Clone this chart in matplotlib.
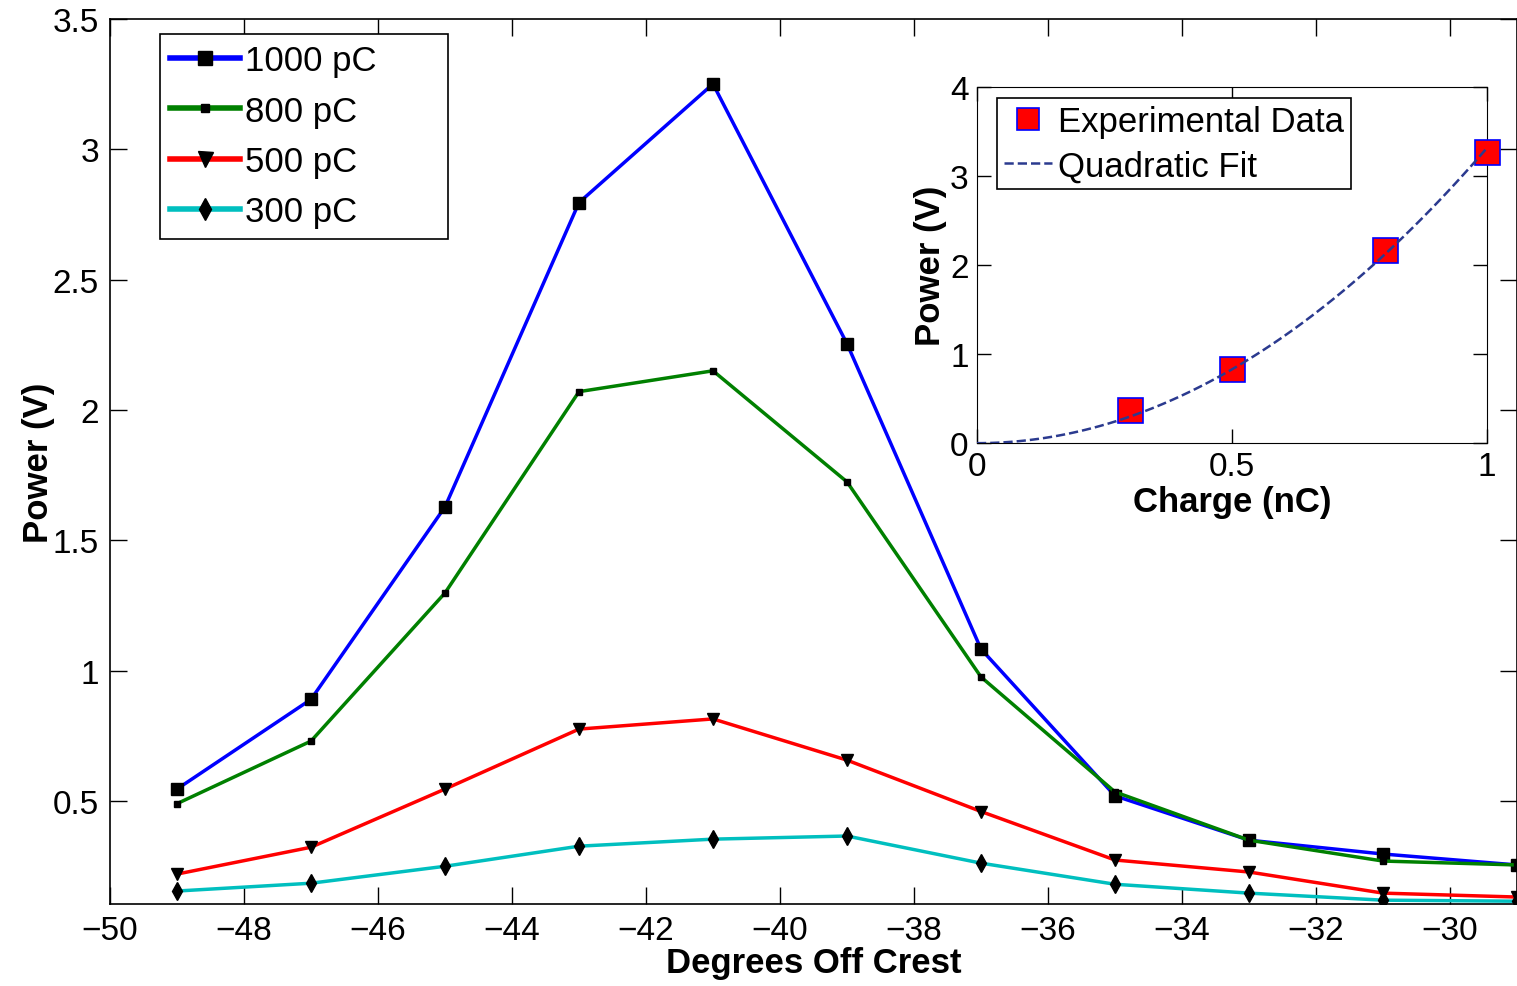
import numpy as np
import matplotlib
matplotlib.use("Agg")
import matplotlib.pyplot as plt

plt.rcParams['font.family'] = ['Liberation Sans', 'DejaVu Sans']

# degrés hors crête
phase = [-49, -47, -45, -43, -41, -39, -37, -35, -33, -31, -29]
p1000 = [0.546, 0.89, 1.628, 2.795, 3.25, 2.254, 1.083, 0.52, 0.35, 0.297, 0.255]
p800 = [0.49, 0.73, 1.298, 2.07, 2.15, 1.724, 0.976, 0.535, 0.35, 0.27, 0.255]
p500 = [0.22, 0.323, 0.546, 0.776, 0.815, 0.657, 0.46, 0.274, 0.228, 0.147, 0.132]
p300 = [0.155, 0.185, 0.25, 0.327, 0.354, 0.366, 0.262, 0.181, 0.147, 0.12, 0.116]

# encart : puissance crête vs charge
charge = [0.3, 0.5, 0.8, 1.0]
p_peak = [0.37, 0.83, 2.17, 3.27]

fig = plt.figure(figsize=(15.17, 9.87), dpi=100)
ax = fig.add_axes([0.0725, 0.083, 0.9275, 0.897])

ax.plot(phase, p1000, '-s', color='#0000ff', lw=2.5, mfc='k', mec='k', ms=8, label='1000 pC')
ax.plot(phase, p800, '-s', color='#008000', lw=2.5, mfc='k', mec='k', ms=5, label='800 pC')
ax.plot(phase, p500, '-v', color='#ff0000', lw=2.5, mfc='k', mec='k', ms=9, label='500 pC')
ax.plot(phase, p300, '-d', color='#00bfbf', lw=2.5, mfc='k', mec='k', ms=9, label='300 pC')

ax.set_xlim(-50, -29)
ax.set_ylim(0.105, 3.5)
ax.set_xticks(np.arange(-50, -29, 2))
ax.set_xticklabels(['\u2212%d' % abs(v) for v in np.arange(-50, -29, 2)])
ax.set_yticks([0.5, 1, 1.5, 2, 2.5, 3, 3.5])
ax.set_yticklabels(['0.5', '1', '1.5', '2', '2.5', '3', '3.5'])
ax.tick_params(direction='in', length=12, width=1, top=True, right=True, labelsize=24, pad=8)
ax.set_xlabel('Degrees Off Crest', fontsize=25, fontweight='bold', labelpad=0)
ax.set_ylabel('Power (V)', fontsize=25, fontweight='bold', labelpad=-2)
for s in ax.spines.values():
    s.set_linewidth(1.2)

leg = ax.legend(loc='upper left', bbox_to_anchor=(0.0355, 0.983, 0.205, 0.0), mode='expand',
                fontsize=25, handlelength=2.0, handletextpad=0.15, labelspacing=0.5,
                borderpad=0.3, borderaxespad=0.0, fancybox=False, edgecolor='k',
                framealpha=1, markerscale=1.2)
for ln in leg.get_lines():
    ln.set_linewidth(4)
leg.get_frame().set_linewidth(1.2)

# Encart
ins = fig.add_axes([0.644, 0.55, 0.336, 0.361])
a = np.sum(np.array(charge)**2 * np.array(p_peak)) / np.sum(np.array(charge)**4)
xf = np.linspace(0, 1, 100)
ins.plot(charge, p_peak, 's', mfc='#ff0000', mec='#0000ff', mew=1.2, ms=18, ls='none',
         clip_on=False, zorder=3, label='Experimental Data')
ins.plot(xf, a * xf**2, '--', color='#2b3a8f', lw=1.8, zorder=4, label='Quadratic Fit')
ins.set_xlim(0, 1)
ins.set_ylim(0, 4)
ins.set_xticks([0, 0.5, 1])
ins.set_xticklabels(['0', '0.5', '1'])
ins.set_yticks([0, 1, 2, 3, 4])
ins.tick_params(direction='in', length=10, width=1, top=True, right=True, labelsize=24, pad=6)
ins.set_xlabel('Charge (nC)', fontsize=25, fontweight='bold', labelpad=2)
ins.set_ylabel('Power (V)', fontsize=25, fontweight='bold', labelpad=2)
lg2 = ins.legend(loc='upper left', bbox_to_anchor=(0.039, 0.968), fontsize=25, handlelength=1.4,
                 handletextpad=0.15, labelspacing=0.32, borderpad=0.2, borderaxespad=0.0,
                 fancybox=False, edgecolor='k', framealpha=1, markerscale=0.9)
lg2.get_frame().set_linewidth(1.2)

plt.savefig('out.png', dpi=100)
